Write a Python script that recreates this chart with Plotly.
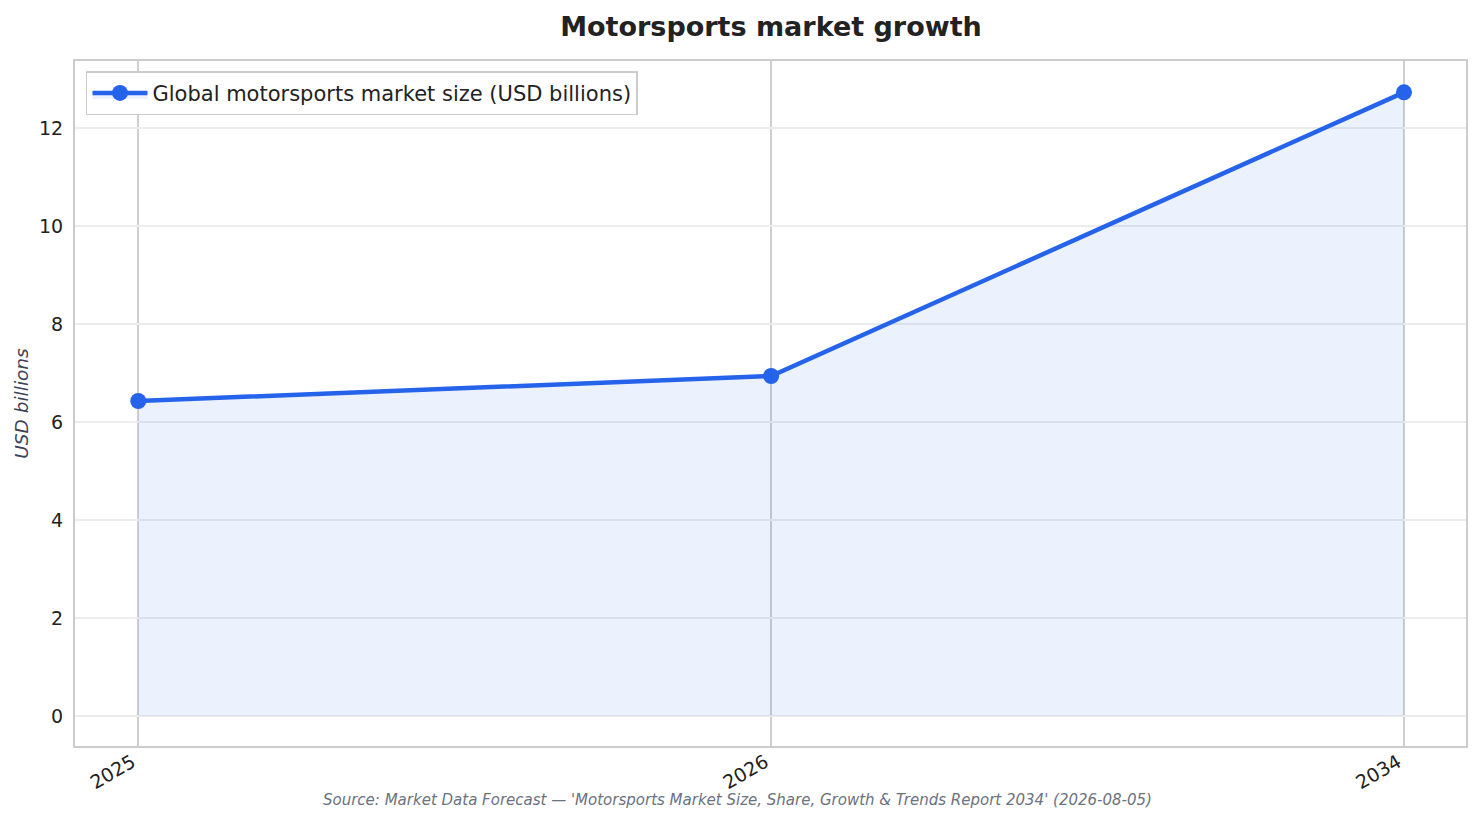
import plotly.graph_objects as go

years = ["2025", "2026", "2034"]
market_size = [6.43, 6.94, 12.73]
y_ticks = [0, 2, 4, 6, 8, 10, 12]

BLUE = "#2563eb"
FONT = "DejaVu Sans"

fig = go.Figure()
fig.add_trace(go.Scatter(
    x=years, y=market_size, mode="lines+markers",
    name="Global motorsports market size (USD billions)",
    line=dict(color=BLUE, width=4.5),
    marker=dict(color=BLUE, size=16),
    fill="tozeroy", fillcolor="rgba(37,99,235,0.09)",
))

fig.update_layout(
    width=1465, height=808,
    margin=dict(l=67, r=7, t=53, b=70, autoexpand=False),
    paper_bgcolor="white", plot_bgcolor="white",
    font=dict(family=FONT, size=19, color="#222"),
    title=dict(text="<b>Motorsports market growth</b>", x=0.5208, xref="container",
               xanchor="center", y=0.9765, yref="container", yanchor="middle",
               font=dict(size=27, color="#222")),
    showlegend=True,
    legend=dict(x=0.0079, y=0.985, xanchor="left", yanchor="top",
                bordercolor="#cccccc", borderwidth=1.5, bgcolor="white",
                itemwidth=55,
                font=dict(size=21, color="#222")),
    xaxis=dict(type="category", range=[-0.1, 2.098], tickangle=-30,
               showgrid=True, gridcolor="#cfcfcf", gridwidth=1.5,
               showline=True, linecolor="#cccccc", linewidth=2, mirror=True,
               ticks="", ticklabelstandoff=-4, ticklabelshift=-6, automargin=False,
               tickfont=dict(size=19, color="#222"), zeroline=False),
    yaxis=dict(range=[-0.612, 13.37], tickvals=y_ticks,
               showgrid=True, gridcolor="#ececec", gridwidth=1.5,
               showline=True, linecolor="#cccccc", linewidth=2, mirror=True,
               ticks="", ticklabelstandoff=6, zeroline=False, automargin=False,
               tickfont=dict(size=19, color="#222"),
               title=dict(text="<i>USD billions</i>", font=dict(size=18.5, color="#3b4356"),
                          standoff=6)),
)

fig.add_annotation(
    text="<i>Source: Market Data Forecast — 'Motorsports Market Size, Share, Growth & Trends Report 2034' (2026-08-05)</i>",
    xref="paper", yref="paper", x=0.4766, y=-0.0788, xanchor="center", yanchor="middle",
    showarrow=False, font=dict(size=15, color="#6b7280"),
)

fig.write_html("out.html")
